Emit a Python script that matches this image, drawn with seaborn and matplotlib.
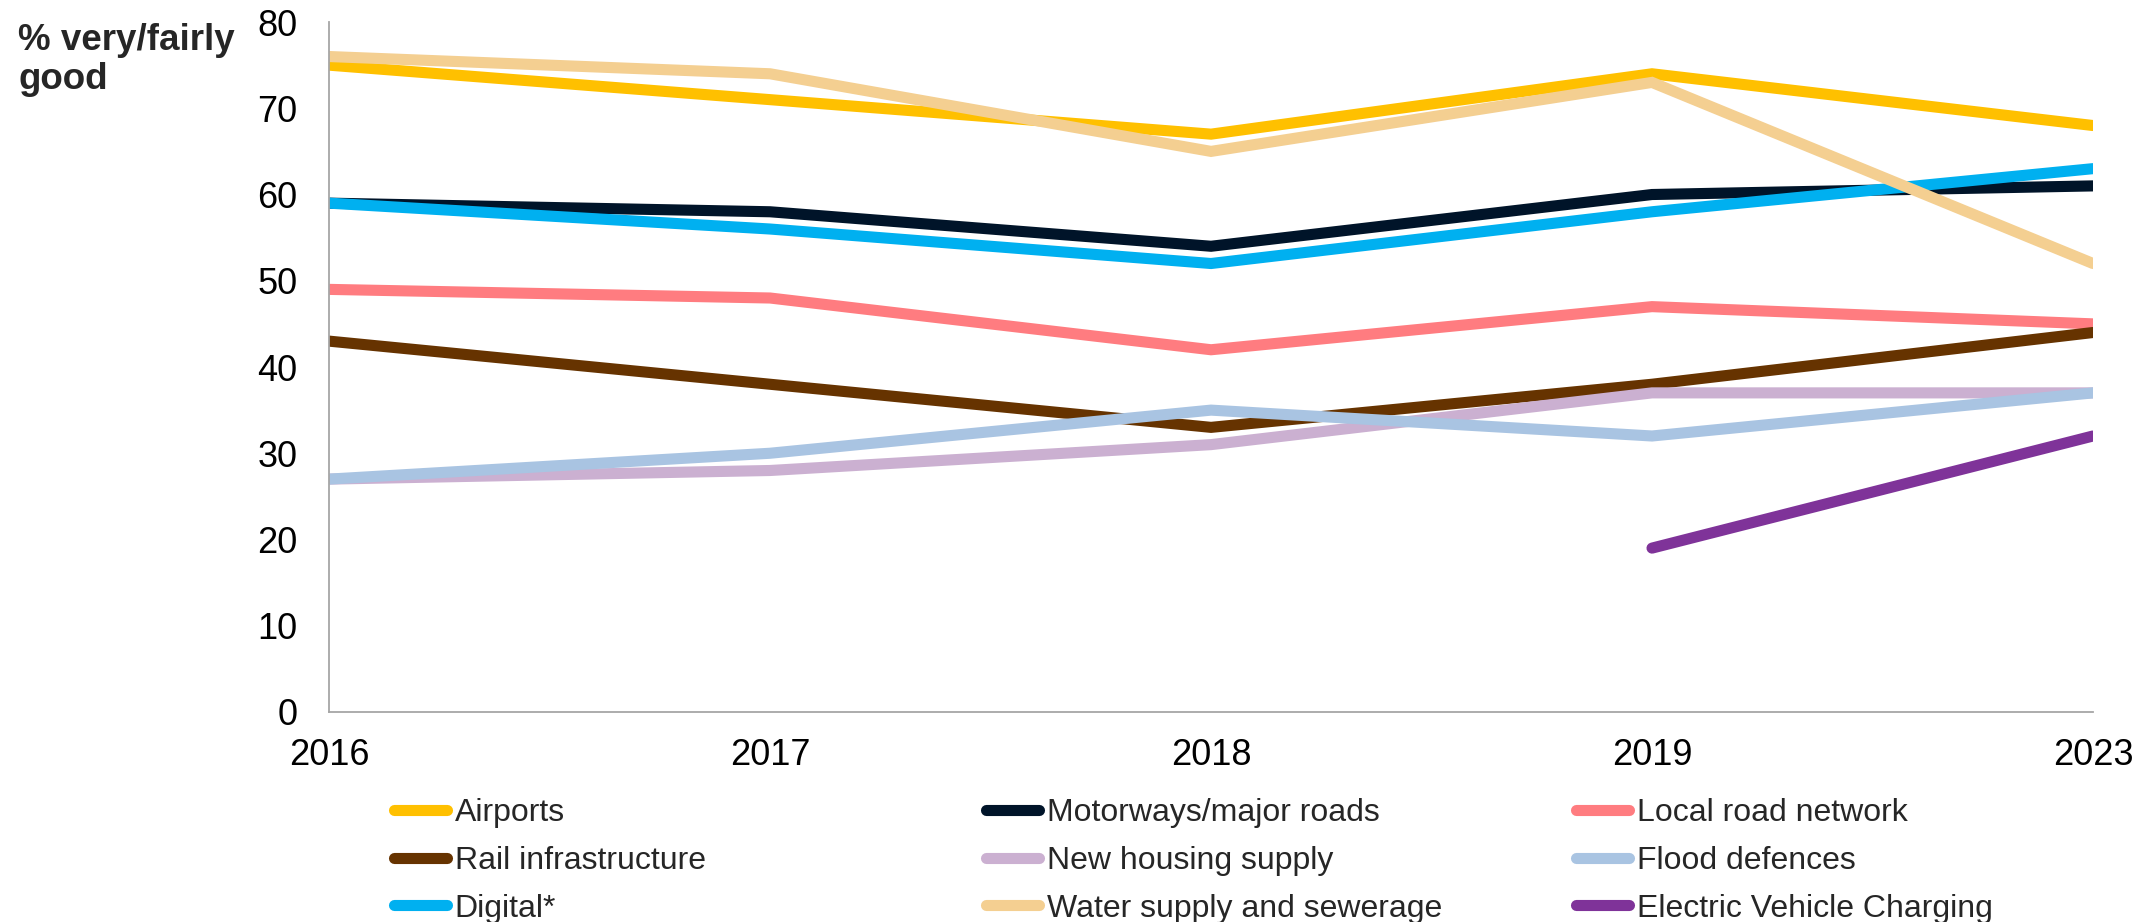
import numpy as np
import pandas as pd
import matplotlib
matplotlib.use("Agg")
import matplotlib.pyplot as plt
import seaborn as sns

years = ["2016", "2017", "2018", "2019", "2023"]

airports = [75, 71, 67, 74, 68]
motorways = [59, 58, 54, 60, 61]
local_roads = [49, 48, 42, 47, 45]
rail = [43, 38, 33, 38, 44]
housing = [27, 28, 31, 37, 37]
flood = [27, 30, 35, 32, 37]
digital = [59, 56, 52, 58, 63]
water = [76, 74, 65, 73, 52]
ev_charging = [np.nan, np.nan, np.nan, 19, 32]

series_names = [
    "Airports", "Motorways/major roads", "Local road network",
    "Rail infrastructure", "New housing supply", "Flood defences",
    "Digital*", "Water supply and sewerage", "Electric Vehicle Charging",
]
series_values = [airports, motorways, local_roads, rail, housing, flood,
                 digital, water, ev_charging]
colors = ["#FFC000", "#001429", "#FF7C80", "#663300", "#CBB0D1",
          "#A9C4E2", "#00B0F0", "#F4CF91", "#7F3399"]

rows = []
for name, vals in zip(series_names, series_values):
    for i, v in enumerate(vals):
        if not np.isnan(v):
            rows.append({"pos": i, "value": v, "series": name})
df = pd.DataFrame(rows)

sns.set_theme(style="white")
plt.rcParams["font.family"] = ["Liberation Sans", "DejaVu Sans"]

fig = plt.figure(figsize=(21.44, 9.22), dpi=100)
ax = fig.add_axes([0.1535, 0.2278, 0.8227, 0.7483])

sns.lineplot(data=df, x="pos", y="value", hue="series", hue_order=series_names,
             palette=dict(zip(series_names, colors)), linewidth=8,
             estimator=None, sort=False, ax=ax)

for ln in ax.lines:
    ln.set_solid_capstyle("round")
    ln.set_solid_joinstyle("miter")

handles, labels = ax.get_legend_handles_labels()
ax.get_legend().remove()

ax.set_xlim(0, len(years) - 1)
ax.set_ylim(0, 80)
ax.set_xticks(range(len(years)))
ax.set_xticklabels(years)
ax.set_yticks(range(0, 81, 10))
ax.set_xlabel("")
ax.set_ylabel("")

for side in ["top", "right"]:
    ax.spines[side].set_visible(False)
for side in ["left", "bottom"]:
    ax.spines[side].set_color("#A6A6A6")
    ax.spines[side].set_linewidth(1.3)

ax.tick_params(axis="both", which="both", direction="out", color="#A6A6A6",
               width=1.3, length=8, labelsize=26, labelcolor="black")
ax.tick_params(axis="y", pad=15)
ax.tick_params(axis="x", pad=11)
ax.grid(False)

fig.text(0.0085, 0.975, "% very/fairly\ngood", ha="left", va="top",
         fontsize=26.5, fontweight="bold", color="#262626", linespacing=1.15)

# three legend columns, filled row by row
col_x = [0.1838, 0.4598, 0.7350]
for c in range(3):
    idx = [c, c + 3, c + 6]
    hs = [handles[i] for i in idx]
    for h in hs:
        h.set_linewidth(8)
        h.set_solid_capstyle("round")
    fig.legend(hs, [labels[i] for i in idx], loc="upper left",
               bbox_to_anchor=(col_x[c], 0.134), frameon=False,
               fontsize=23, handlelength=1.65, handletextpad=0.25,
               labelspacing=0.55, borderpad=0, borderaxespad=0)

fig.savefig("out.png", dpi=100)
